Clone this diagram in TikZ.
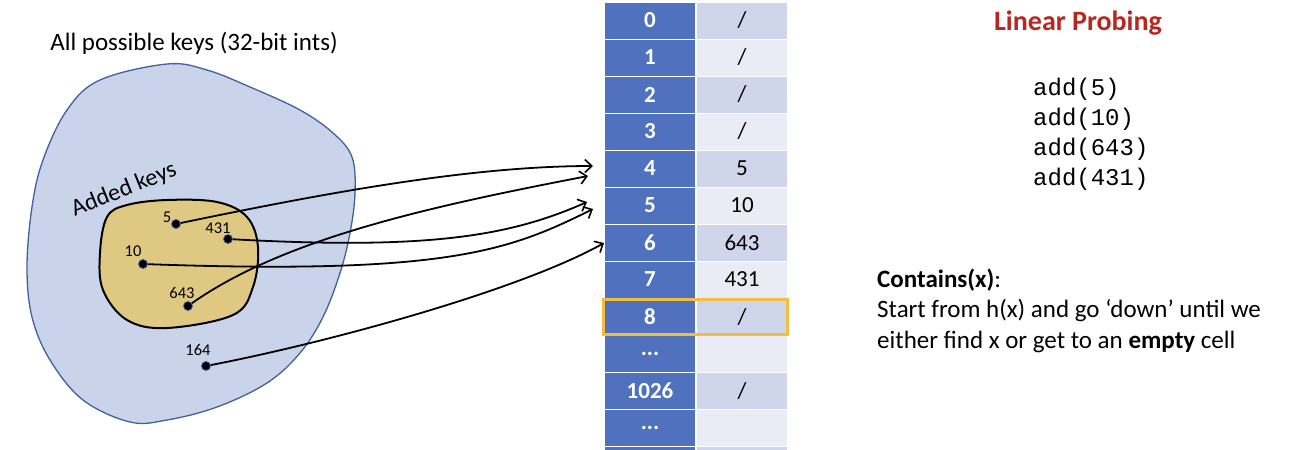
\documentclass[tikz,border=0pt]{standalone}
\usepackage{fontspec}
\setmainfont{Carlito}
\newfontfamily\codefont{Liberation Mono}
\usetikzlibrary{arrows.meta}
\definecolor{tableBlue}{HTML}{4F71BE}
\definecolor{rowDark}{HTML}{CFD5EA}
\definecolor{rowLight}{HTML}{E9EBF5}
\definecolor{universeBlue}{HTML}{C9D4EA}
\definecolor{universeEdge}{HTML}{41609F}
\definecolor{addedGold}{HTML}{DFC982}
\definecolor{probeOrange}{HTML}{F5BD3C}
\definecolor{titleRed}{HTML}{B8271F}
\newcommand\noval{/}
\newcommand\gapmark{...}

\begin{document}
\begin{tikzpicture}[x=1pt, y=-1pt,
  keycell/.style={fill=tableBlue, text=white, font=\fontsize{23}{27}\selectfont\bfseries, minimum width=90pt, minimum height=36pt, inner sep=0pt},
  valcell/.style={font=\fontsize{23}{27}\selectfont, minimum width=90pt, minimum height=36pt, inner sep=0pt},
  keydot/.style={circle, fill=black, draw=universeEdge, line width=0.8pt, minimum size=9pt, inner sep=0pt},
  keylbl/.style={font=\fontsize{16.5}{20}\selectfont, inner sep=0pt},
  hasharrow/.style={line width=1.8pt, -{Straight Barb[length=7pt,width=13pt,line width=1.6pt]}}]
 	\useasboundingbox (0,0) rectangle (1302,450);
 	% key sets
 	\draw[universeEdge, fill=universeBlue, line width=1.3pt] plot[smooth cycle, tension=0.6] coordinates {(167,64) (207,70) (250,87) (300,110) (333,133) (352,157) (355,193) (350,233) (340,273) (323,317) (300,353) (267,383) (217,407) (167,420) (130,422) (83,400) (50,360) (32,317) (27,267) (32,207) (43,160) (67,110) (100,80)};
 	\draw[black, fill=addedGold, line width=2pt] plot[smooth cycle, tension=0.6] coordinates {(167,200) (217,202) (247,217) (258,247) (253,287) (233,315) (167,328) (127,320) (103,290) (100,253) (107,217) (127,205)};
 	\node[font=\fontsize{25}{30}\selectfont] (universe) at (194,43) {All possible keys (32-bit ints)};
 	\node[font=\fontsize{24}{28}\selectfont, rotate=22] (added) at (124,190) {Added keys};
 	\node[keydot] (k5) at (176,224) {};
 	\node[keydot] (k431) at (228,239) {};
 	\node[keydot] (k10) at (143,264) {};
 	\node[keydot] (k643) at (188,306) {};
 	\node[keydot] (k164) at (206,366) {};
 	\node[keylbl] (l5) at (167,217) {5};
 	\node[keylbl] (l431) at (218,228) {431};
 	\node[keylbl] (l10) at (133,251) {10};
 	\node[keylbl] (l643) at (182,293) {643};
 	\node[keylbl] (l164) at (198,350) {164};
 	% hash table
 	\foreach \k/\v [count=\i from 0] in {0/\noval,1/\noval,2/\noval,3/\noval,4/5,5/10,6/643,7/431,8/\noval,\gapmark/{},1026/\noval,\gapmark/{},{}/{}} {
 	  \ifodd\i \def\rowfill{rowLight}\else\def\rowfill{rowDark}\fi
 	  \node[keycell] (key\i) at (650, 20.5+37*\i) {\k};
 	  \node[valcell, fill=\rowfill] (val\i) at (742, 20.5+37*\i) {\v};
 	}
 	\draw[probeOrange, line width=3.3pt] ([xshift=-1pt,yshift=-1pt]key8.north west) rectangle ([yshift=0.5pt]val8.south east);
 	% arrow tips
 	\coordinate (t5) at (593,166);
 	\coordinate (t643) at (588,176);
 	\coordinate (t431) at (587,202);
 	\coordinate (t10) at (593,209);
 	\coordinate (t164) at (604,243);
 	\draw[hasharrow] (k5) .. controls (330,192) and (473,166) .. (t5);
 	\draw[hasharrow] (k643) .. controls (286,237) and (438,205) .. (t643);
 	\draw[hasharrow] (k431) .. controls (430,250) and (510,236) .. (t431);
 	\draw[hasharrow] (k10) .. controls (450,275) and (510,250) .. (t10);
 	\draw[hasharrow] (k164) .. controls (330,342) and (520,290) .. (t164);
 	% side notes
 	\node[font=\fontsize{28}{32}\selectfont\bfseries, text=titleRed] (title) at (1078,23) {Linear Probing};
 	\node[font=\codefont\fontsize{24}{30}\selectfont, align=left, anchor=base west, inner sep=0pt] (ops) at (1033,185) {add(5)\\add(10)\\add(643)\\add(431)};
 	\node[font=\fontsize{25}{30.5}\selectfont, align=left, anchor=base west, inner sep=0pt] (rule) at (877,348) {\textbf{Contains(x)}:\\Start from h(x) and go ‘down’ until we\\either find x or get to an \textbf{empty} cell};
\end{tikzpicture}
\end{document}
